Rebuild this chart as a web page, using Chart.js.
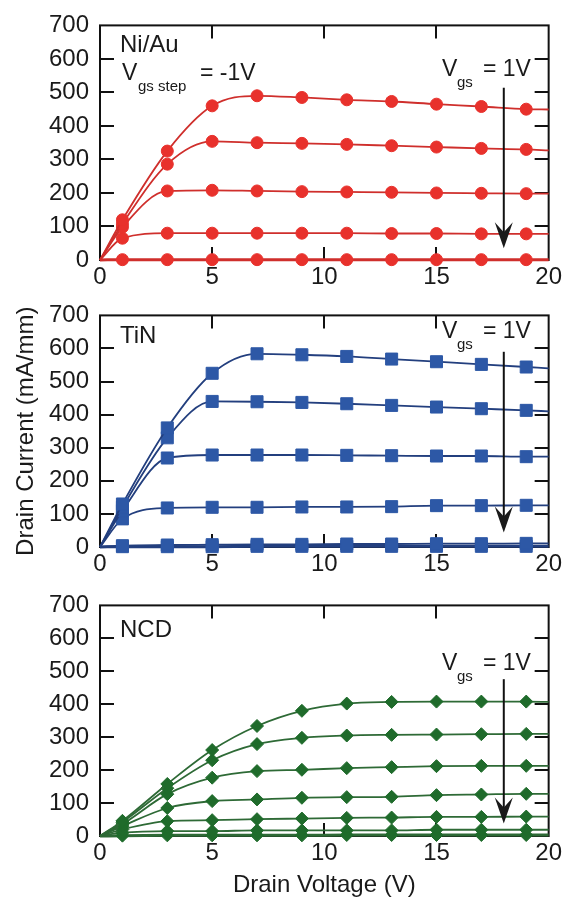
<!DOCTYPE html>
<html>
<head>
<meta charset="utf-8">
<script src="https://cdn.jsdelivr.net/npm/chart.js@4.4.0/dist/chart.umd.min.js"></script>
<style>
  html, body { margin: 0; padding: 0; background: #fff; }
  #wrap { position: relative; width: 565px; height: 900px; }
  canvas { position: absolute; left: 0; }
</style>
</head>
<body>
<div id="wrap">
  <canvas id="c1" width="565" height="290" style="top:0"></canvas>
  <canvas id="c2" width="565" height="290" style="top:290px"></canvas>
  <canvas id="c3" width="565" height="320" style="top:580px"></canvas>
</div>
<script>
// drain voltage sample points (V); first and last are curve ends only, no marker
const vds = [0, 1, 3, 5, 7, 9, 11, 13, 15, 17, 19, 20];

// Ni/Au gate, Vgs = 1V down in -1V steps (mA/mm)
const niau1 = [0, 120, 325, 460, 490, 485, 478, 473, 465, 458, 450, 449];
const niau2 = [0, 108, 286, 354, 350, 348, 345, 341, 337, 333, 330, 327];
const niau3 = [0, 98, 206, 208, 206, 204, 203, 202, 200, 199, 198, 198];
const niau4 = [0, 65, 80, 80, 80, 80, 80, 79, 79, 78, 78, 78];
const niau5 = [0, 1, 1, 1, 1, 1, 1, 1, 1, 1, 1, 1];

// TiN gate
const tin1 = [0, 130, 360, 525, 584, 581, 576, 568, 560, 552, 544, 540];
const tin2 = [0, 120, 330, 440, 439, 437, 433, 428, 423, 418, 413, 410];
const tin3 = [0, 110, 269, 278, 278, 278, 277, 276, 275, 275, 273, 273];
const tin4 = [0, 85, 118, 120, 120, 121, 121, 122, 125, 125, 126, 126];
const tin5 = [0, 4, 6, 7, 8, 8, 9, 9, 10, 10, 11, 11];
const tin6 = [0, 1, 1, 1, 2, 2, 2, 2, 2, 2, 2, 2];

// NCD gate
const ncd1 = [0, 46, 158, 261, 334, 380, 402, 407, 408, 408, 408, 407];
const ncd2 = [0, 42, 145, 230, 279, 298, 305, 307, 308, 309, 310, 310];
const ncd3 = [0, 36, 127, 177, 197, 201, 206, 209, 212, 213, 213, 213];
const ncd4 = [0, 30, 85, 106, 111, 116, 118, 119, 124, 126, 128, 128];
const ncd5 = [0, 20, 45, 48, 51, 53, 55, 56, 58, 58, 59, 59];
const ncd6 = [0, 10, 15, 15, 17, 17, 17, 17, 19, 19, 19, 19];
const ncd7 = [0, 1, 2, 2, 2, 2, 3, 3, 3, 3, 3, 3];

const xTicks = [0, 5, 10, 15, 20];
const yTicks = [0, 100, 200, 300, 400, 500, 600, 700];

const FONT = "Arial, 'Liberation Sans', Helvetica, sans-serif";

function makeSets(series, st) {
  return series.map((vals, k) => ({
    data: vds.map((v, i) => ({ x: v, y: vals[i] })),
    borderColor: st.line,
    borderWidth: k === series.length - 1 ? 3 : 1.8,
    pointStyle: st.shape,
    pointRadius: vds.map((v, i) => (i === 0 || i === vds.length - 1) ? 0 : st.r),
    pointBackgroundColor: st.fill,
    pointBorderColor: st.fill,
    pointBorderWidth: 1,
    cubicInterpolationMode: 'monotone',
    clip: 10,
    fill: false
  }));
}

// box, inward ticks, panel labels and the Vgs arrow
const decorPlugin = {
  id: 'decor',
  beforeDatasetsDraw(chart) {
    const { ctx, chartArea: a, scales: { x, y } } = chart;
    ctx.save();
    ctx.strokeStyle = '#111';
    ctx.lineWidth = 2;
    ctx.strokeRect(a.left, a.top, a.width, a.height);
    ctx.beginPath();
    y.ticks.forEach(t => {
      if (t.value <= y.min || t.value >= y.max) return;
      const py = Math.round(y.getPixelForValue(t.value));
      ctx.moveTo(a.left, py); ctx.lineTo(a.left + 14, py);
      ctx.moveTo(a.right - 14, py); ctx.lineTo(a.right, py);
    });
    x.ticks.forEach(t => {
      if (t.value <= x.min || t.value >= x.max) return;
      const px = Math.round(x.getPixelForValue(t.value));
      ctx.moveTo(px, a.top); ctx.lineTo(px, a.top + 13);
      ctx.moveTo(px, a.bottom); ctx.lineTo(px, a.bottom - 13);
    });
    ctx.stroke();
    ctx.restore();
  },
  afterDatasetsDraw(chart, args, o) {
    const { ctx, chartArea: a, scales: { x, y } } = chart;
    ctx.save();
    ctx.fillStyle = '#1a1a1a';
    ctx.textBaseline = 'alphabetic';
    ctx.textAlign = 'left';

    ctx.font = '24px ' + FONT;
    ctx.fillText(o.name, a.left + 20, a.top + o.nameY);

    const sub = (lx, base, main, subTxt, subX, rest, restX) => {
      ctx.font = '23px ' + FONT;
      ctx.fillText(main, a.left + lx, a.top + base);
      ctx.font = '15px ' + FONT;
      ctx.fillText(subTxt, a.left + subX, a.top + base + 11);
      ctx.font = '23px ' + FONT;
      ctx.fillText(rest, a.left + restX, a.top + base);
    };
    if (o.step) sub(22, 55, 'V', 'gs step', 38, '= -1V', 100);
    sub(342, o.vgsY, 'V', 'gs', 357, '= 1V', 383);

    // arrow
    const ax = x.getPixelForValue(o.arrowX);
    const y0 = y.getPixelForValue(o.arrowTop);
    const y1 = y.getPixelForValue(o.arrowTip);
    ctx.strokeStyle = '#111';
    ctx.lineWidth = 2;
    ctx.beginPath();
    ctx.moveTo(ax, y0); ctx.lineTo(ax, y1 - 12);
    ctx.stroke();
    ctx.beginPath();
    ctx.moveTo(ax, y1);
    ctx.lineTo(ax - 9, y1 - 26);
    ctx.lineTo(ax, y1 - 16);
    ctx.lineTo(ax + 9, y1 - 26);
    ctx.closePath();
    ctx.fill();
    ctx.restore();
  }
};

function makeChart(id, series, st, deco, opts) {
  const tickFont = { family: FONT, size: 24 };
  return new Chart(document.getElementById(id), {
    type: 'line',
    data: { datasets: makeSets(series, st) },
    options: {
      responsive: false,
      animation: false,
      events: [],
      layout: { padding: { top: opts.padTop, right: 14, left: 0, bottom: 0 } },
      plugins: { legend: { display: false }, tooltip: { enabled: false }, decor: deco },
      scales: {
        x: {
          type: 'linear', min: 0, max: 20,
          afterBuildTicks: s => { s.ticks = xTicks.map(v => ({ value: v })); },
          grid: { display: false, drawTicks: false },
          border: { display: false },
          ticks: { color: '#1a1a1a', font: tickFont, padding: 3, maxRotation: 0 },
          title: {
            display: !!opts.xTitle, text: opts.xTitle || '', color: '#1a1a1a',
            font: { family: FONT, size: 24 }, padding: { top: 0, bottom: 0 }
          },
          afterFit: s => { s.height = opts.xH; }
        },
        y: {
          min: 0, max: 700,
          afterBuildTicks: s => { s.ticks = yTicks.map(v => ({ value: v })); },
          grid: { display: false, drawTicks: false },
          border: { display: false },
          ticks: { color: '#1a1a1a', font: tickFont, padding: 11 },
          title: {
            display: !!opts.yTitle, text: opts.yTitle || '', color: '#1a1a1a',
            font: { family: FONT, size: 24 }, padding: { top: 12, bottom: 0 }
          },
          afterFit: s => { s.width = 100; }
        }
      }
    },
    plugins: [decorPlugin]
  });
}

makeChart('c1', [niau1, niau2, niau3, niau4, niau5],
  { line: '#cf2f2c', fill: '#e8312c', shape: 'circle', r: 6 },
  { name: 'Ni/Au', nameY: 27, step: true, vgsY: 51, arrowX: 18, arrowTop: 514, arrowTip: 35 },
  { padTop: 22, xH: 30 });

makeChart('c2', [tin1, tin2, tin3, tin4, tin5, tin6],
  { line: '#233f7e', fill: '#2d58a6', shape: 'rect', r: 8.5 },
  { name: 'TiN', nameY: 28, step: false, vgsY: 23, arrowX: 18, arrowTop: 590, arrowTip: 44 },
  { padTop: 20, xH: 33, yTitle: 'Drain Current (mA/mm)' });

makeChart('c3', [ncd1, ncd2, ncd3, ncd4, ncd5, ncd6, ncd7],
  { line: '#2e6a36', fill: '#1f6b2b', shape: 'rectRot', r: 6.5 },
  { name: 'NCD', nameY: 32, step: false, vgsY: 65, arrowX: 18, arrowTop: 476, arrowTip: 38 },
  { padTop: 15, xH: 64, xTitle: 'Drain Voltage (V)' });
</script>
</body>
</html>
